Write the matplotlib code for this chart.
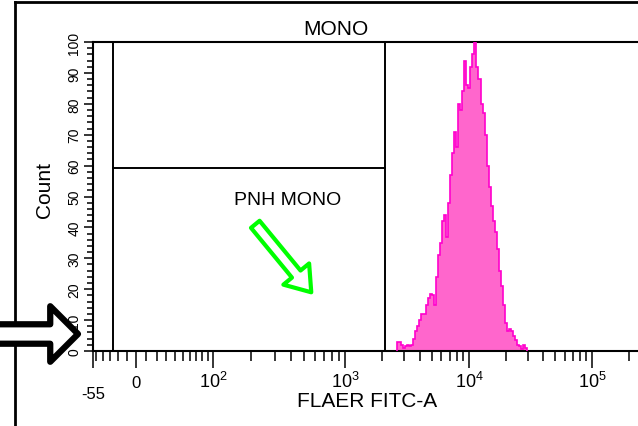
import numpy as np
import matplotlib
matplotlib.use("Agg")
import matplotlib.pyplot as plt
import matplotlib.transforms as mtransforms
from matplotlib.lines import Line2D
from matplotlib.patches import FancyArrowPatch, ArrowStyle
from matplotlib.ticker import FixedLocator

plt.rcParams["font.family"] = ["Liberation Sans", "DejaVu Sans"]
plt.rcParams["mathtext.default"] = "regular"

# FLAER FITC-A histogram of the monocyte gate (log-spaced channels)
flaer_lo = 2625.0
flaer_hi = 29650.0
counts = [3, 3, 2, 1, 1.5, 2, 1.5, 2, 4, 6.5, 8, 10, 12, 12, 15, 17,
          18.5, 18, 15, 24, 31, 35, 42, 44, 37, 48, 57, 64, 71, 66, 80, 78,
          84, 94, 86, 85, 92, 96, 100, 92, 88, 80, 77, 70, 60, 53, 47, 42,
          38.5, 33, 26, 21, 15, 9, 6.5, 7, 6.5, 5, 3.5, 2, 1.5, 0.5, 2, 1]

# gates
pnh_left = -27
mono_split = 2100
pnh_top = 59.2

x_min, x_max = -55, 262144
x_major = [-55, 0, 100, 1000, 10000, 100000]
x_major_labels = ["-55", "0", "$10^{2}$", "$10^{3}$", "$10^{4}$", "$10^{5}$"]
x_minor = ([-50, -40, -30, -20, -10]
           + [10, 20, 30, 40, 50, 60, 70, 80, 90]
           + [200, 300, 400, 500, 600, 700, 800, 900]
           + [2000, 3000, 4000, 5000, 6000, 7000, 8000, 9000]
           + [20000, 30000, 40000, 50000, 60000, 70000, 80000, 90000]
           + [200000])

# biexponential-like display: arcsinh core pinned to the decade spacing
ASINH_C = 52.0
LN10 = np.log(10)
anchor_vals = np.array([-55, 0, 100, 1000, 1e4, 1e5, 262144])
anchor_pos = np.array([93, 136, 213, 345, 469, 592, 643], dtype=float)
anchor_g = np.arcsinh(anchor_vals / ASINH_C) / LN10


def interp_ext(x, xp, fp):
    x = np.asarray(x, dtype=float)
    y = np.interp(x, xp, fp)
    lo = x < xp[0]
    hi = x > xp[-1]
    y = np.where(lo, fp[0] + (x - xp[0]) * (fp[1] - fp[0]) / (xp[1] - xp[0]), y)
    y = np.where(hi, fp[-1] + (x - xp[-1]) * (fp[-1] - fp[-2]) / (xp[-1] - xp[-2]), y)
    return y


def flaer_forward(v):
    g = np.arcsinh(np.asarray(v, dtype=float) / ASINH_C) / LN10
    return interp_ext(g, anchor_g, anchor_pos)


def flaer_inverse(p):
    g = interp_ext(p, anchor_pos, anchor_g)
    return ASINH_C * np.sinh(g * LN10)


W, H = 638, 427
fig = plt.figure(figsize=(W / 100, H / 100), dpi=100)
ax = fig.add_axes([93 / W, (H - 352) / H, 550 / W, 309 / H])
ax.set_xscale("function", functions=(flaer_forward, flaer_inverse))
ax.set_xlim(x_min, x_max)
ax.set_ylim(0, 100)

edges = np.logspace(np.log10(flaer_lo), np.log10(flaer_hi), len(counts) + 1)
ax.stairs(counts, edges, fill=True, facecolor="#ff66cc", edgecolor="none", zorder=2)
ax.stairs(counts, edges, color="#ff00cc", lw=1.2, zorder=3)

# gate outlines
gate_kw = dict(color="black", lw=1.4, zorder=4)
ax.plot([pnh_left, pnh_left], [0, 100], **gate_kw)
ax.plot([mono_split, mono_split], [0, 100], **gate_kw)
ax.plot([pnh_left, mono_split], [pnh_top, pnh_top], **gate_kw)

ax.text(377, 48.9, "PNH MONO", ha="center", va="center", fontsize=14)
top_tr = mtransforms.blended_transform_factory(ax.transData, ax.transAxes)
ax.text(850, 1.045, "MONO", transform=top_tr, ha="center", va="center", fontsize=15)

green = FancyArrowPatch(
    posA=(215, 41), posB=(563, 19),
    arrowstyle=ArrowStyle.Simple(head_length=17, head_width=24, tail_width=8),
    mutation_scale=1, shrinkA=0, shrinkB=0,
    facecolor="white", edgecolor="#00ff00", lw=3, zorder=5)
ax.add_patch(green)

for side in ["left", "bottom", "top", "right"]:
    ax.spines[side].set_linewidth(1.5)

# y axis
ax.set_yticks(range(0, 101, 10))
ax.yaxis.set_minor_locator(FixedLocator(range(0, 101, 2)))
ax.tick_params(axis="y", which="major", length=6.5, width=1.1, labelsize=10,
               labelrotation=90, pad=2)
ax.tick_params(axis="y", which="minor", length=4.3, width=1.1)
for lab in ax.get_yticklabels():
    lab.set_va("center")

# x axis
ax.set_xticks(x_major)
ax.set_xticklabels([""] * len(x_major))
ax.xaxis.set_minor_locator(FixedLocator(x_minor))
ax.tick_params(axis="x", which="major", length=12.5, width=1.1)
ax.tick_params(axis="x", which="minor", length=7.5, width=1.1)
for v, lab in zip(x_major, x_major_labels):
    small = not lab.startswith("$")
    y = -0.152 if v == x_min else -0.1165
    ax.text(v, y, lab, transform=top_tr, ha="center", va="baseline",
            fontsize=12 if small else 13)

fig.text(367 / W, 1 - 402 / H, "FLAER FITC-A", ha="center", va="center", fontsize=15)
fig.text(45 / W, 1 - 190 / H, "Count", ha="center", va="center", rotation=90, fontsize=15)

# outer panel frame
fig.add_artist(Line2D([15 / W, 15 / W], [0, 1 - 3 / H], transform=fig.transFigure,
                      color="black", lw=2))
fig.add_artist(Line2D([15 / W, 1], [1 - 3 / H, 1 - 3 / H], transform=fig.transFigure,
                      color="black", lw=2))

# pointer arrow at the axis baseline
black = FancyArrowPatch(
    posA=(-20, H - 335), posB=(78, H - 335),
    arrowstyle=ArrowStyle.Simple(head_length=20, head_width=40, tail_width=14),
    mutation_scale=1, shrinkA=0, shrinkB=0,
    facecolor="white", edgecolor="black", lw=4.5,
    transform=mtransforms.IdentityTransform(), zorder=10)
fig.add_artist(black)

fig.savefig("out.png", dpi=100)
